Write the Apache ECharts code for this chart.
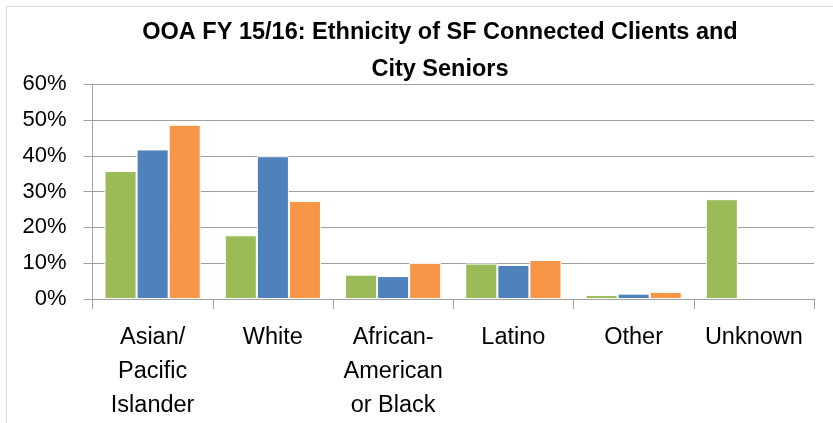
<!DOCTYPE html>
<html>
<head>
<meta charset="utf-8">
<script src="https://cdn.jsdelivr.net/npm/echarts@6/dist/echarts.min.js"></script>
<style>html,body{margin:0;padding:0;background:#fff;}#c{width:833px;height:423px;}</style>
</head>
<body>
<div id="c"></div>
<script>
var categories = ['Asian/\nPacific\nIslander', 'White', 'African-\nAmerican\nor Black', 'Latino', 'Other', 'Unknown'];
var seriesGreen = [35.8, 17.8, 6.8, 9.9, 1.1, 27.9];
var seriesBlue = [41.8, 39.9, 6.4, 9.5, 1.5, null];
var seriesOrange = [48.7, 27.4, 10.1, 10.9, 2.0, null];
var yTicks = [0, 10, 20, 30, 40, 50, 60];

var chart = echarts.init(document.getElementById('c'));
var font = 'Liberation Sans, Arial, sans-serif';
function mk(name, data, color) {
  return {
    name: name, type: 'bar', data: data, barGap: '0%', barCategoryGap: '20%',
    itemStyle: { color: color, borderColor: '#ffffff', borderWidth: 1 },
    animation: false
  };
}
chart.setOption({
  animation: false,
  graphic: [{
    type: 'rect', shape: { x: 6.5, y: 6.5, width: 840, height: 430 },
    style: { fill: 'none', stroke: '#d9d9d9', lineWidth: 1 }, silent: true
  }],
  title: {
    text: 'OOA FY 15/16: Ethnicity of SF Connected Clients and\nCity Seniors',
    left: 435, textAlign: 'center', top: 9,
    textStyle: { fontFamily: font, fontWeight: 'bold', fontSize: 23.5, lineHeight: 37, color: '#000' }
  },
  grid: { left: 92.5, right: 19, top: 84.3, bottom: 118.7, containLabel: false },
  xAxis: {
    type: 'category', data: categories,
    axisLine: { lineStyle: { color: '#a0a0a0', width: 1 } },
    axisTick: { show: true, length: 10, lineStyle: { color: '#a0a0a0' } },
    axisLabel: { fontFamily: font, fontSize: 23.5, color: '#000', lineHeight: 34, margin: 22, interval: 0 }
  },
  yAxis: {
    type: 'value', min: 0, max: 60, interval: 10,
    axisLine: { show: true, lineStyle: { color: '#a0a0a0', width: 1 } },
    axisTick: { show: true, length: 9, lineStyle: { color: '#a0a0a0' } },
    splitLine: { lineStyle: { color: '#a0a0a0', width: 1 } },
    axisLabel: {
      fontFamily: font, fontSize: 22, color: '#000', margin: 26,
      formatter: function (v) { return yTicks.indexOf(v) >= 0 ? v + '%' : ''; }
    }
  },
  series: [
    mk('SF Connected', seriesGreen, '#9BBB59'),
    mk('City Seniors', seriesBlue, '#4F81BD'),
    mk('Other', seriesOrange, '#F79646')
  ]
});
</script>
</body>
</html>
